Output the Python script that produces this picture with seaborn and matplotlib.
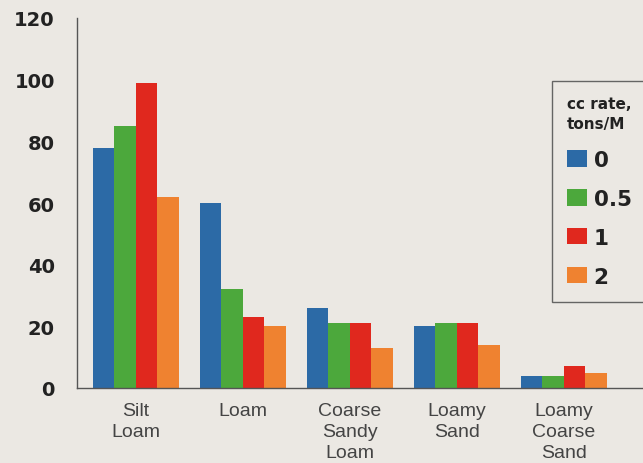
import matplotlib
matplotlib.use("Agg")
import matplotlib.pyplot as plt
import seaborn as sns
import pandas as pd
from matplotlib.patches import Patch

categories = ["Silt\nLoam", "Loam", "Coarse\nSandy\nLoam", "Loamy\nSand", "Loamy\nCoarse\nSand"]
rates = ["0", "0.5", "1", "2"]
rate_0 = [78, 60, 26, 20, 4]
rate_05 = [85, 32, 21, 21, 4]
rate_1 = [99, 23, 21, 21, 7]
rate_2 = [62, 20, 13, 14, 5]
yticks = [0, 20, 40, 60, 80, 100, 120]

colors = ["#2c6aa6", "#4ca83c", "#e0281e", "#ef8230"]
bg = "#ebe8e3"

rows = []
for r, vals in zip(rates, [rate_0, rate_05, rate_1, rate_2]):
    for c, v in zip(categories, vals):
        rows.append({"soil": c, "rate": r, "value": v})
df = pd.DataFrame(rows)

sns.set_style("white")
plt.rcParams["font.family"] = ["Liberation Sans", "DejaVu Sans"]

fig = plt.figure(figsize=(6.43, 4.64), dpi=100, facecolor=bg)
ax = fig.add_axes([77/643, 1 - 389/464, 1 - 77/643, (389 - 19)/464])
ax.set_facecolor(bg)

sns.barplot(data=df, x="soil", y="value", hue="rate", order=categories,
            hue_order=rates, palette=colors, width=0.8, saturation=1,
            linewidth=0, ax=ax, legend=False)

ax.set_xlim(-0.55, 4.74)
ax.set_ylim(0, 120)
ax.set_yticks(yticks)
ax.set_yticklabels([str(t) for t in yticks], fontsize=14, fontweight="bold",
                   color="#222222", family="DejaVu Sans")
ax.tick_params(axis="y", length=7, width=1, color="#555555", direction="out", pad=9)
ax.tick_params(axis="x", length=0, pad=10, labelsize=14, labelcolor="#444444")
for lab in ax.get_xticklabels():
    lab.set_linespacing(1.3)
ax.set_xlabel("")
ax.set_ylabel("")
for s in ["top", "right"]:
    ax.spines[s].set_visible(False)
for s in ["left", "bottom"]:
    ax.spines[s].set_color("#555555")
    ax.spines[s].set_linewidth(1.0)

handles = [Patch(facecolor=c, edgecolor="none") for c in colors]
leg = ax.legend(handles, rates, title="cc rate,\ntons/M", loc="upper left",
                bbox_to_anchor=(552/643, 1 - 82/464), bbox_transform=fig.transFigure,
                borderaxespad=0, frameon=True, fancybox=False,
                handlelength=0.93, handleheight=0.8,
                handletextpad=0.3, labelspacing=0.88, borderpad=0.7,
                prop={"size": 15.5, "weight": "bold", "family": "DejaVu Sans"})
leg.get_title().set_fontsize(11)
leg.get_title().set_fontweight("bold")
leg.get_title().set_family("DejaVu Sans")
leg.get_title().set_linespacing(1.4)
leg._legend_box.align = "left"
leg.get_frame().set_edgecolor("#444444")
leg.get_frame().set_linewidth(1.0)
leg.get_frame().set_facecolor(bg)
for t in leg.get_texts():
    t.set_color("#222222")
leg.get_title().set_color("#222222")

fig.savefig("out.png", dpi=100, facecolor=bg)
